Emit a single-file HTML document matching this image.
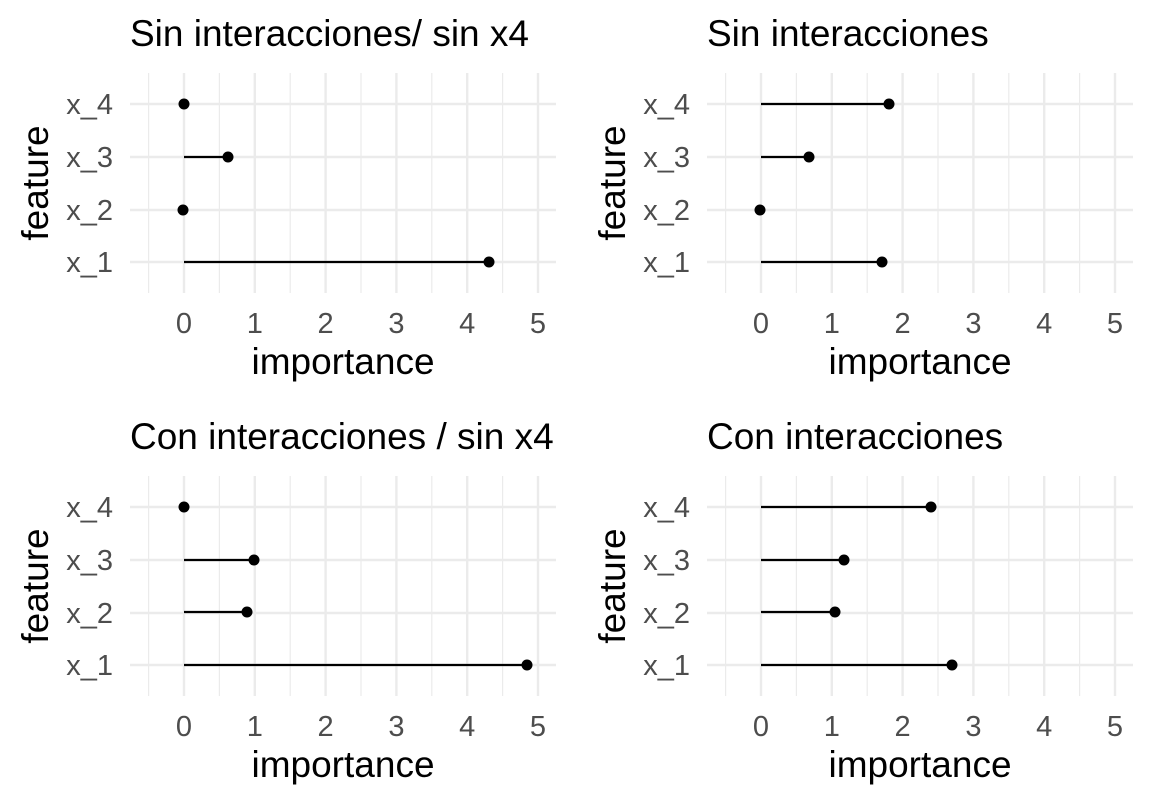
<!DOCTYPE html>
<html><head><meta charset="utf-8"><style>body{margin:0;background:#fff}svg{display:block;font-family:"Liberation Sans",Arial,sans-serif}</style></head><body>
<svg width="1152" height="806" viewBox="0 0 1152 806" xmlns="http://www.w3.org/2000/svg">
<defs>
<g id="grid">
<g stroke="#ebebeb" stroke-width="1.2">
<line x1="148.6" y1="73" x2="148.6" y2="293"/><line x1="219.4" y1="73" x2="219.4" y2="293"/><line x1="290.2" y1="73" x2="290.2" y2="293"/><line x1="361" y1="73" x2="361" y2="293"/><line x1="431.8" y1="73" x2="431.8" y2="293"/><line x1="502.6" y1="73" x2="502.6" y2="293"/>
</g>
<g stroke="#ebebeb" stroke-width="2.4">
<line x1="184" y1="73" x2="184" y2="293"/><line x1="254.8" y1="73" x2="254.8" y2="293"/><line x1="325.6" y1="73" x2="325.6" y2="293"/><line x1="396.4" y1="73" x2="396.4" y2="293"/><line x1="467.2" y1="73" x2="467.2" y2="293"/><line x1="538" y1="73" x2="538" y2="293"/>
<line x1="130" y1="104" x2="556" y2="104"/><line x1="130" y1="157" x2="556" y2="157"/><line x1="130" y1="210" x2="556" y2="210"/><line x1="130" y1="262" x2="556" y2="262"/>
</g>
<g fill="#4d4d4d" font-size="29" text-anchor="end">
<text x="113" y="114">x_4</text><text x="113" y="167">x_3</text><text x="113" y="220">x_2</text><text x="113" y="272">x_1</text>
</g>
<g fill="#4d4d4d" font-size="29" text-anchor="middle">
<text x="184" y="333">0</text><text x="254.8" y="333">1</text><text x="325.6" y="333">2</text><text x="396.4" y="333">3</text><text x="467.2" y="333">4</text><text x="538" y="333">5</text>
</g>
<text x="343" y="374" font-size="37" text-anchor="middle" fill="#000">importance</text>
<text transform="translate(48,183) rotate(-90)" font-size="37" text-anchor="middle" fill="#000">feature</text>
</g>
</defs>
<use href="#grid"/>
<use href="#grid" transform="translate(577,0)"/>
<use href="#grid" transform="translate(0,403)"/>
<use href="#grid" transform="translate(577,403)"/>
<g font-size="37" fill="#000">
<text x="130" y="46">Sin interacciones/ sin x4</text>
<text x="707" y="46">Sin interacciones</text>
<text x="130" y="449">Con interacciones / sin x4</text>
<text x="707" y="449">Con interacciones</text>
</g>
<g stroke="#000" stroke-width="2.2">
<line x1="184" y1="157" x2="228" y2="157"/><line x1="184" y1="262" x2="489" y2="262"/>
<line x1="761" y1="104" x2="889" y2="104"/><line x1="761" y1="157" x2="809" y2="157"/><line x1="761" y1="262" x2="882" y2="262"/>
<line x1="184" y1="560" x2="254" y2="560"/><line x1="184" y1="612" x2="247" y2="612"/><line x1="184" y1="665" x2="527" y2="665"/>
<line x1="761" y1="507" x2="931" y2="507"/><line x1="761" y1="560" x2="844" y2="560"/><line x1="761" y1="612" x2="835" y2="612"/><line x1="761" y1="665" x2="952" y2="665"/>
</g>
<g fill="#000">
<circle cx="184" cy="104" r="5.5"/><circle cx="228" cy="157" r="5.5"/><circle cx="183" cy="210" r="5.5"/><circle cx="489" cy="262" r="5.5"/>
<circle cx="889" cy="104" r="5.5"/><circle cx="809" cy="157" r="5.5"/><circle cx="760" cy="210" r="5.5"/><circle cx="882" cy="262" r="5.5"/>
<circle cx="184" cy="507" r="5.5"/><circle cx="254" cy="560" r="5.5"/><circle cx="247" cy="612" r="5.5"/><circle cx="527" cy="665" r="5.5"/>
<circle cx="931" cy="507" r="5.5"/><circle cx="844" cy="560" r="5.5"/><circle cx="835" cy="612" r="5.5"/><circle cx="952" cy="665" r="5.5"/>
</g>
</svg>
</body></html>
